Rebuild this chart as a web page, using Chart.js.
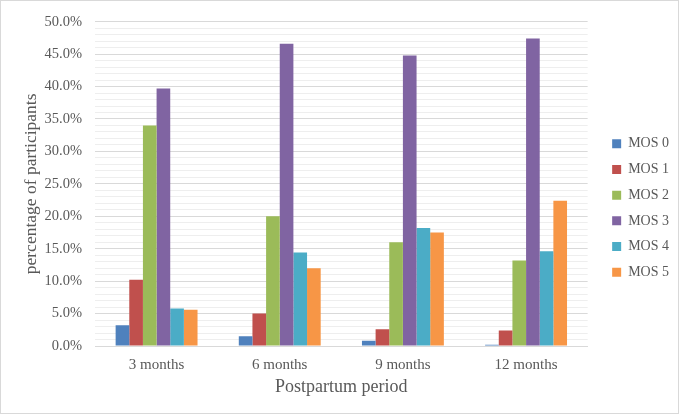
<!DOCTYPE html>
<html>
<head>
<meta charset="utf-8">
<script src="https://cdn.jsdelivr.net/npm/chart.js@4/dist/chart.umd.min.js"></script>
<style>
  html, body { margin: 0; padding: 0; background: #ffffff; }
  canvas { display: block; }
</style>
</head>
<body>
<canvas id="c" width="679" height="416"></canvas>
<script>
const categories = ['3 months', '6 months', '9 months', '12 months'];
const seriesNames = ['MOS 0', 'MOS 1', 'MOS 2', 'MOS 3', 'MOS 4', 'MOS 5'];
const mos0 = [3.2, 1.5, 0.8, 0.2];
const mos1 = [10.2, 5.0, 2.6, 2.4];
const mos2 = [34.0, 20.0, 16.0, 13.2];
const mos3 = [39.7, 46.6, 44.8, 47.4];
const mos4 = [5.8, 14.4, 18.2, 14.6];
const mos5 = [5.6, 12.0, 17.5, 22.4];
const seriesValues = [mos0, mos1, mos2, mos3, mos4, mos5];
const seriesColors = ['#4F81BD', '#C0504D', '#9BBB59', '#8064A2', '#4BACC6', '#F79646'];
const yTicks = [0, 5, 10, 15, 20, 25, 30, 35, 40, 45, 50];

const FONT = '"Liberation Serif", "Times New Roman", serif';
const TXT = '#595959';

const frame = {
  id: 'frame',
  beforeDraw(chart) {
    const ctx = chart.ctx;
    ctx.save();
    ctx.fillStyle = '#ffffff';
    ctx.fillRect(0, 0, chart.width, chart.height);
    ctx.restore();
  },
  afterDraw(chart) {
    const ctx = chart.ctx;
    ctx.save();
    ctx.strokeStyle = '#d9d9d9';
    ctx.lineWidth = 1;
    ctx.strokeRect(0.5, 0.5, chart.width - 1, chart.height - 3);
    ctx.restore();
  }
};

new Chart(document.getElementById('c'), {
  type: 'bar',
  data: {
    labels: categories,
    datasets: seriesNames.map((n, i) => ({
      label: n,
      data: seriesValues[i],
      backgroundColor: seriesColors[i],
      borderWidth: 0,
      categoryPercentage: 0.665,
      barPercentage: 1.0
    }))
  },
  options: {
    responsive: false,
    animation: false,
    devicePixelRatio: 1,
    layout: { padding: { top: 18, right: 0, bottom: 18, left: 0 } },
    plugins: {
      legend: {
        position: 'right',
        align: 'center',
        labels: {
          boxWidth: 9,
          boxHeight: 9,
          padding: 11.7,
          color: TXT,
          font: { family: FONT, size: 14 }
        }
      },
      tooltip: { enabled: false }
    },
    scales: {
      x: {
        grid: { display: false, drawTicks: false },
        border: { display: true, color: '#d9d9d9' },
        ticks: { color: TXT, font: { family: FONT, size: 15 }, padding: 10 },
        title: {
          display: true,
          text: 'Postpartum period',
          color: TXT,
          font: { family: FONT, size: 18 },
          padding: { top: 0, bottom: 0 }
        },
        afterFit(s) { s.height = 52; }
      },
      y: {
        min: 0,
        max: 50,
        grid: {
          drawTicks: false,
          color: (c) => (c.tick && yTicks.includes(c.tick.value)) ? '#d9d9d9' : '#eeeeee',
          lineWidth: 1
        },
        border: { display: false },
        ticks: {
          stepSize: 1,
          autoSkip: false,
          padding: 13,
          color: TXT,
          font: { family: FONT, size: 14.5 },
          callback: (v) => yTicks.includes(v) ? v.toFixed(1) + '%' : ''
        },
        title: {
          display: true,
          text: 'percentage of participants',
          color: TXT,
          font: { family: FONT, size: 17.5 },
          padding: { top: 21, bottom: 0 }
        },
        afterFit(s) { s.width = 95; }
      },
      spacer: {
        type: 'linear',
        position: 'right',
        display: true,
        grid: { display: false, drawTicks: false },
        border: { display: false },
        ticks: { display: false },
        afterFit(s) { s.width = 12.8; }
      }
    }
  },
  plugins: [frame]
});
</script>
</body>
</html>
